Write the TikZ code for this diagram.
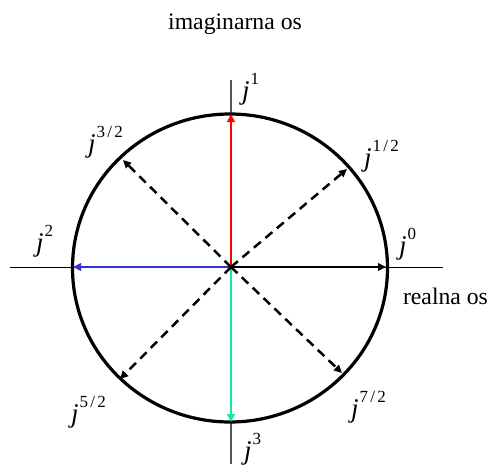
\documentclass[tikz,border=0pt]{standalone}
\usepackage{fontspec}
\setmainfont{Liberation Serif}
\usetikzlibrary{arrows.meta}
\definecolor{vred}{RGB}{255,0,0}
\definecolor{vblue}{RGB}{50,50,200}
\definecolor{vgreen}{RGB}{20,230,170}
\definecolor{axgray}{RGB}{85,85,85}
\newcommand{\jpow}[1]{\fontsize{27}{27}\selectfont\textit{j}\hspace{1pt}\raisebox{15pt}{\fontsize{17}{17}\selectfont #1}}
\newcommand{\frsl}[2]{#1\hspace{2.2pt}/\hspace{2.2pt}#2}
\tikzset{
  vec/.style={line width=2.5pt, -{Triangle[length=8pt,width=7.5pt]}},
  dvec/.style={vec, dash pattern=on 9pt off 6pt},
  jlbl/.style={anchor=base west, inner sep=0pt},
  axtext/.style={font=\fontsize{23.7}{24}\selectfont, inner sep=0pt, anchor=base},
}
\begin{document}
\begin{tikzpicture}[x=1pt,y=-1pt]
\useasboundingbox (0,0) rectangle (492,466);
% key points
\coordinate (O) at (231,267);
\coordinate (xl) at (10,267);
\coordinate (xr) at (443,267);
\coordinate (yt) at (231,80);
\coordinate (yb) at (231,464);
\coordinate (t0) at (386,267);
\coordinate (t1) at (231,114);
\coordinate (t2) at (73,267);
\coordinate (t3) at (231,422);
\coordinate (t12) at (347,169);
\coordinate (t32) at (123,160);
\coordinate (t52) at (120,379);
\coordinate (t72) at (342,373);
% axes
\draw[line width=1pt] (xl) -- (xr);
\draw[line width=1.3pt, axgray] (yt) -- (yb);
% unit circle
\draw[line width=3.2pt] (230,268) ellipse [x radius=157.5, y radius=154];
% vectors
\draw[vec, vred] (O) -- (t1);
\draw[vec, vblue] (O) -- (t2);
\draw[vec, black] (O) -- (t0);
\draw[vec, vgreen] (O) -- (t3);
\draw[dvec] (O) -- (t12);
\draw[dvec] (O) -- (t32);
\draw[dvec] (O) -- (t52);
\draw[dvec] (O) -- (t72);
% labels
\node[jlbl] (l1) at (242,99) {\jpow{1}};
\node[jlbl] (l32) at (88,152) {\jpow{\frsl{3}{2}}};
\node[jlbl] (l12) at (364,166) {\jpow{\frsl{1}{2}}};
\node[jlbl] (l2) at (36,251) {\jpow{2}};
\node[jlbl] (l0) at (399,254) {\jpow{0}};
\node[jlbl] (l52) at (71,422) {\jpow{\frsl{5}{2}}};
\node[jlbl] (l72) at (351,417) {\jpow{\frsl{7}{2}}};
\node[jlbl] (l3) at (244,459) {\jpow{3}};
\node[axtext] (im) at (235,29) {imaginarna os};
\node[axtext] (re) at (445.5,304) {realna os};
\end{tikzpicture}
\end{document}
